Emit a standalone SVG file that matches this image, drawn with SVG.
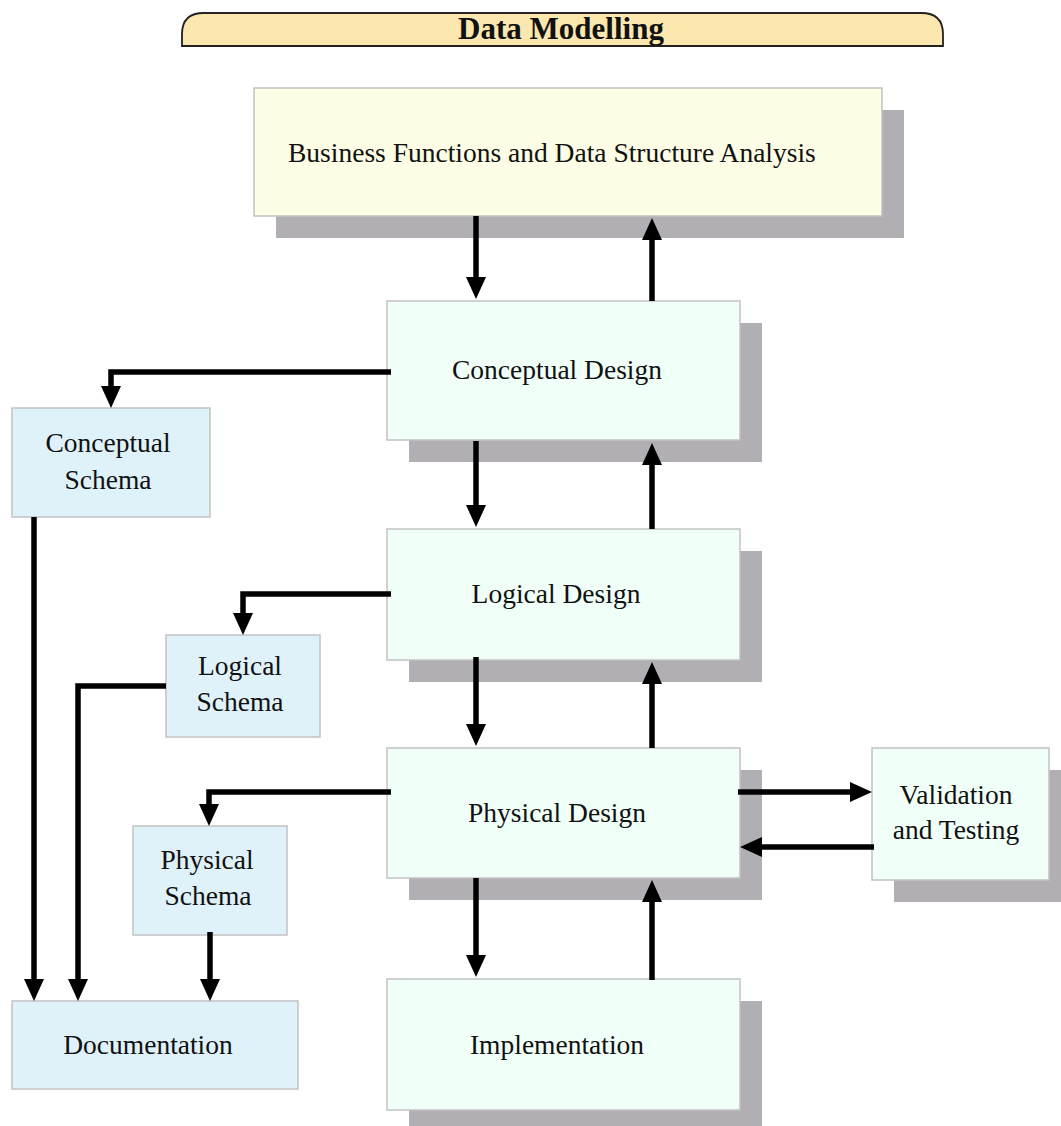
<svg xmlns="http://www.w3.org/2000/svg" width="1061" height="1126" viewBox="0 0 1061 1126">
  <defs>
    <style>
      text { font-family: "Liberation Serif", "Times New Roman", serif; font-size: 27.5px; fill: #111; }
      .mid { text-anchor: middle; }
      .shadow { fill: #b1afb3; }
      .box { stroke: #c2c2c2; stroke-width: 1.5; }
      .analysis { fill: #fefee6; }
      .design { fill: #f0fff8; }
      .schema { fill: #dff2fa; }
      .flow { fill: none; stroke: #000; stroke-width: 5.5; stroke-linejoin: miter; marker-end: url(#head); }
      .title { font-size: 31px; font-weight: bold; }
    </style>
    <marker id="head" viewBox="0 0 22 20" refX="10" refY="10" markerWidth="22" markerHeight="20" markerUnits="userSpaceOnUse" orient="auto">
      <path d="M0,0 L22,10 L0,20 Z" fill="#000"/>
    </marker>
  </defs>

  <rect width="1061" height="1126" fill="#fff"/>

  <!-- title banner -->
  <g id="title">
    <path d="M182,46 L182,34 Q182,13 204,13 L921,13 Q943,13 943,34 L943,46 Z" fill="#fce7ae" stroke="#222" stroke-width="1.8"/>
    <text class="title mid" x="561" y="39">Data Modelling</text>
  </g>

  <g id="analysis">
    <rect class="shadow" x="276" y="110" width="628" height="128"/>
    <rect class="box analysis" x="254" y="88" width="628" height="128"/>
    <text x="288" y="162">Business Functions and Data Structure Analysis</text>
  </g>

  <g id="conceptual-design">
    <rect class="shadow" x="409" y="323" width="353" height="139"/>
    <rect class="box design" x="387" y="301" width="353" height="139"/>
    <text class="mid" x="557" y="379">Conceptual Design</text>
  </g>

  <g id="logical-design">
    <rect class="shadow" x="409" y="551" width="353" height="131"/>
    <rect class="box design" x="387" y="529" width="353" height="131"/>
    <text class="mid" x="556" y="603">Logical Design</text>
  </g>

  <g id="physical-design">
    <rect class="shadow" x="409" y="770" width="353" height="130"/>
    <rect class="box design" x="387" y="748" width="353" height="130"/>
    <text class="mid" x="557" y="822">Physical Design</text>
  </g>

  <g id="implementation">
    <rect class="shadow" x="409" y="1001" width="353" height="131"/>
    <rect class="box design" x="387" y="979" width="353" height="131"/>
    <text class="mid" x="557" y="1054">Implementation</text>
  </g>

  <g id="validation">
    <rect class="shadow" x="894" y="770" width="177" height="132"/>
    <rect class="box design" x="872" y="748" width="177" height="132"/>
    <text class="mid" x="956" y="804">Validation</text>
    <text class="mid" x="956" y="839">and Testing</text>
  </g>

  <g id="conceptual-schema">
    <rect class="box schema" x="12" y="408" width="198" height="109"/>
    <text class="mid" x="108" y="452">Conceptual</text>
    <text class="mid" x="108" y="489">Schema</text>
  </g>

  <g id="logical-schema">
    <rect class="box schema" x="166" y="635" width="154" height="102"/>
    <text class="mid" x="240" y="675">Logical</text>
    <text class="mid" x="240" y="711">Schema</text>
  </g>

  <g id="physical-schema">
    <rect class="box schema" x="133" y="826" width="154" height="109"/>
    <text class="mid" x="207" y="869">Physical</text>
    <text class="mid" x="208" y="905">Schema</text>
  </g>

  <g id="documentation">
    <rect class="box schema" x="12" y="1001" width="286" height="88"/>
    <text class="mid" x="148" y="1054">Documentation</text>
  </g>

  <!-- connectors: each path ends 12px short of the arrow tip -->
  <g id="connectors">
    <path class="flow" d="M476,216 V287"/>
    <path class="flow" d="M652,301 V230"/>
    <path class="flow" d="M391,372 H111 V396"/>
    <path class="flow" d="M476,441 V515"/>
    <path class="flow" d="M652,529 V455"/>
    <path class="flow" d="M391,594 H243 V623"/>
    <path class="flow" d="M476,657 V734"/>
    <path class="flow" d="M652,748 V674"/>
    <path class="flow" d="M391,792 H209 V814"/>
    <path class="flow" d="M738,792 H860"/>
    <path class="flow" d="M874,847 H752"/>
    <path class="flow" d="M476,878 V965"/>
    <path class="flow" d="M652,980 V892"/>
    <path class="flow" d="M34,517 V989"/>
    <path class="flow" d="M166,686 H78 V989"/>
    <path class="flow" d="M210,932 V989"/>
  </g>
</svg>
